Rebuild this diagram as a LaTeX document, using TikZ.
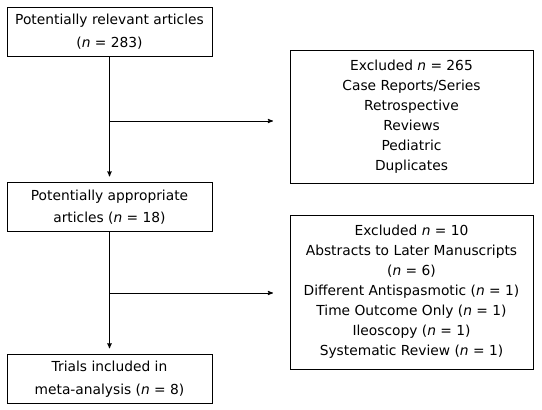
\documentclass[tikz,border=0pt]{standalone}
\usepackage{fontspec}
\setmainfont{DejaVu Sans}
\usetikzlibrary{arrows,positioning}
\tikzset{
    %Define standard arrow tip
    >=stealth',
    %Define style for boxes
    stagebox/.style={
           rectangle,
           draw=black, line width=0.9pt,
           minimum width=205pt,
           minimum height=49pt,
           inner sep=0pt,
           align=center,
           font=\fontsize{13.8}{22.5}\selectfont},
    exclbox/.style={
           stagebox,
           minimum width=243pt,
           font=\fontsize{13.8}{20}\selectfont},
    % Define arrow style
    flow/.style={
           ->,
           line width=0.9pt}
}
\begin{document}
\begin{tikzpicture}[x=1pt,y=1pt,node distance=126pt]
\useasboundingbox (0,0) rectangle (542,410);
\node[stagebox](Rel) at (109.5,378.5){Potentially relevant articles\\(\textit{n} = 283)};
\node[stagebox, below=of Rel](Appr){Potentially appropriate\\articles (\textit{n} = 18)};
\node[stagebox, below=122pt of Appr](Incl){Trials included in\\meta-analysis (\textit{n} = 8)};
\node[exclbox, minimum height=133pt](ExclA) at (411.5,293.5){Excluded \textit{n} = 265\\Case Reports/Series\\Retrospective\\Reviews\\Pediatric\\Duplicates};
\node[exclbox, minimum height=154pt](ExclB) at (411.5,118){Excluded \textit{n} = 10\\Abstracts to Later Manuscripts\\(\textit{n} = 6)\\Different Antispasmotic (\textit{n} = 1)\\Time Outcome Only (\textit{n} = 1)\\Ileoscopy (\textit{n} = 1)\\Systematic Review (\textit{n} = 1)};
\coordinate (SplitA) at (109.5,289);
\coordinate (EndA) at (273,289);
\coordinate (SplitB) at (109.5,117);
\coordinate (EndB) at (273,117);
\path[flow, shorten >=6pt]
	(Rel) edge (Appr)
	(Appr) edge (Incl);
\path[flow]
	(SplitA) edge (EndA)
	(SplitB) edge (EndB);
\end{tikzpicture}
\end{document}
